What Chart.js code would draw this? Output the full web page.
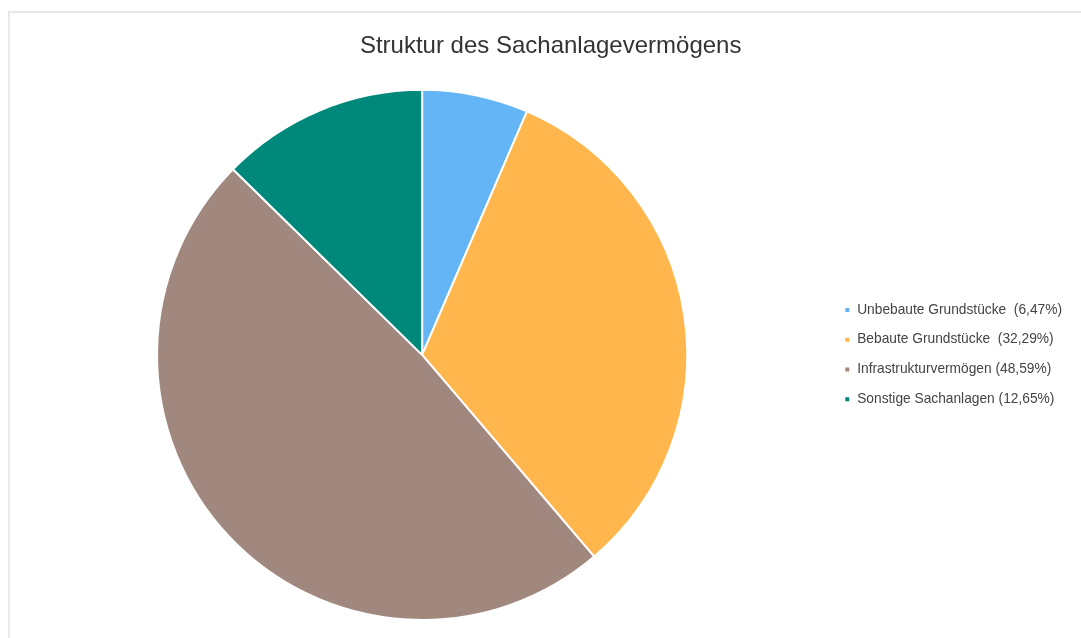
<!DOCTYPE html>
<html><head><meta charset="utf-8">
<script src="https://cdn.jsdelivr.net/npm/chart.js@4/dist/chart.umd.min.js"></script>
<style>
html,body{margin:0;padding:0;background:#fff;width:1081px;height:638px;overflow:hidden;}
#frame{position:absolute;left:8px;top:11px;right:0;bottom:0;border-left:2px solid #e8e8e8;border-top:2px solid #e8e8e8;}
#wrap{position:absolute;left:0;top:0;width:1081px;height:638px;}
</style></head><body>
<div id="frame"></div>
<div id="wrap"><canvas id="c" width="1081" height="638"></canvas></div>
<script>
const categories = ["Unbebaute Grundstücke  (6,47%)", "Bebaute Grundstücke  (32,29%)", "Infrastrukturvermögen (48,59%)", "Sonstige Sachanlagen (12,65%)"];
const values = [6.47, 32.29, 48.59, 12.65];
const colors = ["#64B5F6", "#FFB74D", "#A1887F", "#00897B"];
const titleText = "  Struktur des Sachanlagevermögens";

new Chart(document.getElementById('c'), {
  type: 'pie',
  data: { labels: categories, datasets: [{ data: values, backgroundColor: colors, borderColor: '#ffffff', borderWidth: 2 }] },
  options: {
    responsive: false, animation: false, devicePixelRatio: 1,
    layout: { padding: { left: 16, right: 9, top: 20, bottom: 17 } },
    plugins: {
      title: { display: true, text: titleText, color: '#333333', font: { family: 'Liberation Sans, Arial, sans-serif', size: 24, weight: 'normal' }, padding: { top: 12, bottom: 28 } },
      legend: {
        position: 'right',
        title: { display: true, text: '', font: { size: 10 }, padding: { top: 56, bottom: 0 } },
        labels: { usePointStyle: true, pointStyle: 'rect', boxWidth: 6, boxHeight: 6, padding: 16, color: '#444444', font: { family: 'Liberation Sans, Arial, sans-serif', size: 13.75 } }
      },
      tooltip: { enabled: false }
    }
  }
});
</script></body></html>
